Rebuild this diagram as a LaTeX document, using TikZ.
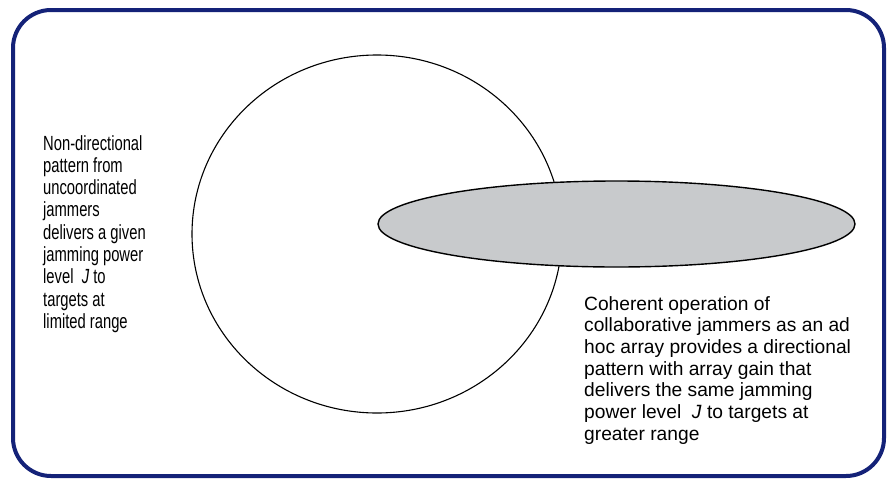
\documentclass[tikz,border=0pt]{standalone}
\usepackage{fontspec}
\setmainfont{Liberation Sans}
\newfontfamily\narrowsans[FakeStretch=0.72]{Liberation Sans}
\definecolor{framenavy}{RGB}{20,34,120}
\definecolor{beamgrey}{RGB}{200,202,204}
\begin{document}
\begin{tikzpicture}[x=1pt, y=-1pt,
    caption/.style={anchor=north west, inner sep=0pt, align=left}]
    \useasboundingbox (0,0) rectangle (888,479);
    % Frame
    \draw[framenavy, line width=4pt, rounded corners=38pt] (13,10) rectangle (884,476);

    % Non-directional pattern
    \draw[line width=1.1pt] (377,234) ellipse [x radius=185, y radius=179];

    % Directional pattern
    \filldraw[fill=beamgrey, draw=black, line width=1.4pt] (616.5,224) ellipse [x radius=238.5, y radius=43];

    % Labels
    \node[caption, font={\narrowsans\fontsize{20.5}{22.3}\selectfont}] (omni) at (43,135)
        {Non-directional\\pattern from\\uncoordinated\\jammers\\delivers a given\\jamming power\\level~~\textit{J} to\\targets at\\limited range};
    \node[caption, font={\fontsize{19.2}{21.7}\selectfont}] (array) at (584,296)
        {Coherent operation of\\collaborative jammers as an ad\\hoc array provides a directional\\pattern with array gain that\\delivers the same jamming\\power level~~\textit{J} to targets at\\greater range};
\end{tikzpicture}
\end{document}
